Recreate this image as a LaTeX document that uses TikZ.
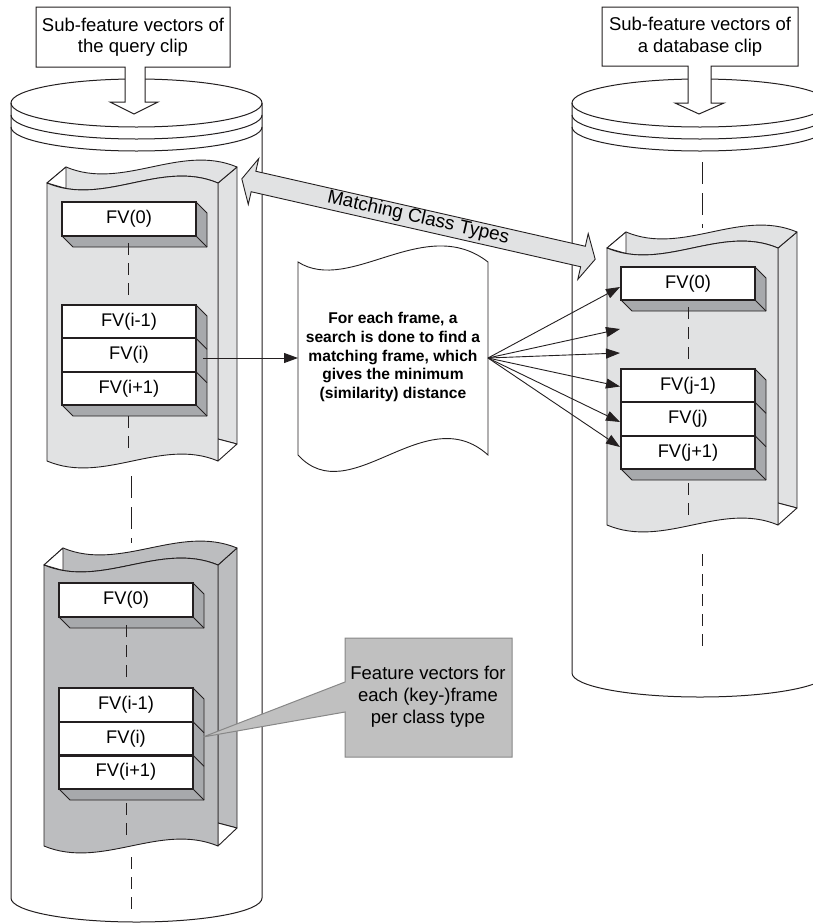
\documentclass[tikz,border=0pt]{standalone}
\usepackage{fontspec}
\setmainfont{Liberation Sans}
\usetikzlibrary{arrows.meta}
\definecolor{lightsheet}{HTML}{E1E2E3}
\definecolor{darksheet}{HTML}{BCBDBF}
\definecolor{depthgray}{HTML}{A7A9AC}
\definecolor{calloutgray}{HTML}{C0C0C0}
\definecolor{calloutedge}{HTML}{878787}
\definecolor{inkc}{HTML}{231F20}
\newcommand{\fvfont}{\fontsize{18.3}{21}\selectfont}
\tikzset{
  ln/.style={draw=inkc, line width=1pt},
  scrollline/.style={draw=inkc, line width=0.9pt, line join=round},
  depthface/.style={fill=depthgray, draw=inkc, line width=0.9pt, line join=round},
  depthline/.style={draw=inkc, line width=0.9pt},
  fvbox/.style={draw=inkc, line width=1.9pt, fill=white, minimum width=134pt, minimum height=33.3pt, inner sep=0pt, font=\fvfont},
  dashsmall/.style={draw=inkc, line width=0.9pt, dash pattern=on 12pt off 8pt},
  dashlong/.style={draw=inkc, line width=0.9pt, dash pattern=on 22pt off 9pt},
  arr/.style={draw=inkc, line width=0.9pt, -{Triangle[length=14pt,width=10pt]}},
  hdr/.style={draw=inkc, line width=1pt, fill=white, line join=miter},
}
\newcommand{\myscroll}[6]{%
  \pgfmathsetmacro{\sL}{#1}\pgfmathsetmacro{\sR}{#2}%
  \pgfmathsetmacro{\sT}{#3}\pgfmathsetmacro{\sB}{#4}\pgfmathsetmacro{\sdy}{#6}%
  \pgfmathsetmacro{\sA}{\sL+(\sR-\sL)/3}\pgfmathsetmacro{\sC}{\sL+2*(\sR-\sL)/3}%
  \filldraw[scrollline, fill=#5] (\sR,\sT) -- (\sR+19,\sT-\sdy) -- (\sR+19,\sB-\sdy-1) -- (\sR,\sB-\sdy-6) -- cycle;
  \filldraw[scrollline, fill=white] (\sR,\sB-\sdy-6) -- (\sR+19,\sB-\sdy-1) -- (\sR,\sB) -- cycle;
  \filldraw[scrollline, fill=#5] (\sL,\sT) -- (\sL+19,\sT-\sdy) .. controls (\sA+19,\sT-\sdy+24) and (\sC+19,\sT-\sdy-24) .. (\sR+19,\sT-\sdy) -- (\sR,\sT) .. controls (\sC,\sT-24) and (\sA,\sT+24) .. (\sL,\sT) -- cycle;
  \filldraw[scrollline, fill=white] (\sL,\sT) -- (\sL+19,\sT-\sdy) -- (\sL+19,\sT+5.5) -- cycle;
  \filldraw[scrollline, fill=#5] (\sL,\sT) .. controls (\sA,\sT+24) and (\sC,\sT-24) .. (\sR,\sT) -- (\sR,\sB) .. controls (\sC,\sB-24) and (\sA,\sB+24) .. (\sL,\sB) -- cycle;
}
\newcommand{\fvdepth}[4]{%
  \filldraw[depthface] (#2,#3) -- (#2+11,#3+11) -- (#2+11,#4+11) -- (#1+11,#4+11) -- (#1,#4) -- (#2,#4) -- cycle;
  \draw[depthline] (#2,#4) -- (#2+11,#4+11);
}
\begin{document}
\begin{tikzpicture}[x=1pt,y=-1pt]
\useasboundingbox (0,0) rectangle (813,924);
\clip (0,0) rectangle (813,924);

% ---------- cylinders ----------
\draw[ln] (136.5,103) ellipse [x radius=125.5pt, y radius=24pt];
\draw[ln] (11,115) arc [start angle=180, end angle=360, x radius=125.5pt, y radius=24pt];
\draw[ln] (11,127) arc [start angle=180, end angle=360, x radius=125.5pt, y radius=24pt];
\draw[ln] (11,103) -- (11,898) arc [start angle=180, end angle=360, x radius=125.5pt, y radius=24pt] -- (262,103);

\draw[ln] (700,103) ellipse [x radius=128pt, y radius=24pt];
\draw[ln] (572,115) arc [start angle=180, end angle=360, x radius=128pt, y radius=24pt];
\draw[ln] (572,127) arc [start angle=180, end angle=360, x radius=128pt, y radius=24pt];
\draw[ln] (572,103) -- (572,673) arc [start angle=180, end angle=360, x radius=128pt, y radius=24pt] -- (828,103);

% dashes in cylinders
\draw[dashlong] (131,476) -- (131,543);
\draw[dashsmall] (131,857) -- (131,913);
\draw[dashlong] (702,162) -- (702,228);
\draw[dashsmall] (702,554) -- (702,651);

% ---------- sheets ----------
\myscroll{47}{218}{183}{461}{lightsheet}{16}
\myscroll{44}{218}{565}{846}{darksheet}{17}
\myscroll{607}{778}{248}{525}{lightsheet}{16}

% ---------- query clip, upper sheet ----------
\fvdepth{62}{196}{202}{236}
\fvdepth{62}{196}{305}{405}
\draw[depthline] (196,338.3) -- (207,349.3);
\draw[depthline] (196,371.7) -- (207,382.7);
\draw[dashsmall] (128,243) -- (128,300);
\draw[dashsmall] (128,416) -- (128,452);
\node[fvbox, minimum height=34pt] (q0) at (129,219) {FV(0)};
\node[fvbox] (qa) at (129,321.7) {FV(i-1)};
\node[fvbox] (qb) at (129,355) {FV(i)};
\node[fvbox] (qc) at (129,388.3) {FV(i+1)};

% ---------- query clip, lower sheet ----------
\fvdepth{59}{193}{583}{617}
\fvdepth{59}{193}{688}{789}
\draw[depthline] (193,721.7) -- (204,732.7);
\draw[depthline] (193,755.3) -- (204,766.3);
\draw[dashsmall] (126,625) -- (126,680);
\draw[dashsmall] (126,803) -- (126,836);
\node[fvbox, minimum height=34pt] (p0) at (126,600) {FV(0)};
\node[fvbox] (pa) at (126,704.8) {FV(i-1)};
\node[fvbox] (pb) at (126,738.5) {FV(i)};
\node[fvbox] (pc) at (126,772.2) {FV(i+1)};

% ---------- database clip sheet ----------
\fvdepth{621}{755}{267}{300}
\fvdepth{621}{755}{369}{469}
\draw[depthline] (755,402.3) -- (766,413.3);
\draw[depthline] (755,435.7) -- (766,446.7);
\draw[dashsmall] (688,307) -- (688,362);
\draw[dashsmall] (688,483) -- (688,516);
\node[fvbox] (d0) at (688,283.5) {FV(0)};
\node[fvbox] (da) at (688,385.7) {FV(j-1)};
\node[fvbox] (db) at (688,419) {FV(j)};
\node[fvbox] (dc) at (688,452.3) {FV(j+1)};

% ---------- header callouts ----------
\filldraw[hdr] (36,7) -- (230,7) -- (230,67) -- (145,67) -- (145,102) -- (158,102) -- (134,114) -- (110,102) -- (125,102) -- (125,67) -- (36,67) -- cycle;
\node[align=center, font=\fontsize{18.5}{21.5}\selectfont, inner sep=0pt] (hq) at (133,37) {Sub-feature vectors of\\the query clip};
\filldraw[hdr] (602,7) -- (798,7) -- (798,66) -- (711,66) -- (711,103) -- (724,103) -- (699,114) -- (675,103) -- (688,103) -- (688,66) -- (602,66) -- cycle;
\node[align=center, font=\fontsize{18.5}{21.5}\selectfont, inner sep=0pt] (hd) at (700,36.5) {Sub-feature vectors of\\a database clip};

% ---------- matching class types double arrow ----------
\filldraw[draw=inkc, line width=0.9pt, fill=lightsheet, line join=miter]
  (241.8,178.84) -- (258.71,158.59) -- (255.83,171.26) -- (585.33,246.26) -- (588.21,233.59) -- (595.19,259.27)
  -- (577.79,279.41) -- (580.67,266.74) -- (251.17,191.74) -- (248.29,204.41) -- cycle;
\node[rotate=-12.82, font=\fontsize{19}{22}\selectfont, inner sep=0pt] (mct) at (418.25,218) {Matching Class Types};

% ---------- document ----------
\filldraw[draw=inkc, line width=0.9pt, fill=white] (298,262) .. controls (350,295) and (425,213) .. (488,262) -- (488,455) .. controls (425,398) and (350,512) .. (298,455) -- cycle;
\node[align=center, font=\bfseries\fontsize{15.6}{18.6}\selectfont, inner sep=0pt] (doc) at (393,357) {For each frame, a\\search is done to find a\\matching frame, which\\gives the minimum\\(similarity) distance};

% ---------- arrows ----------
\coordinate (src) at (203,358);
\coordinate (docin) at (298,358);
\coordinate (docout) at (488,358);
\coordinate (t1) at (620,287);
\coordinate (t2) at (620,329);
\coordinate (t3) at (620,353);
\coordinate (t4) at (620,386.5);
\coordinate (t5) at (620,422);
\coordinate (t6) at (620,447);
\draw[arr] (src) -- (docin);
\foreach \t in {t1,t2,t3,t4,t5,t6} \draw[arr] (docout) -- (\t);

% ---------- grey callout ----------
\filldraw[draw=calloutedge, line width=1pt, fill=calloutgray, line join=miter] (345,638) -- (512,638) -- (512,757) -- (345,757) -- (345,712) -- (203,737) -- (345,682) -- cycle;
\node[align=center, font=\fontsize{18.5}{22}\selectfont, inner sep=0pt] (fvnote) at (428,697) {Feature vectors for\\each (key-)frame\\per class type};
\end{tikzpicture}
\end{document}
